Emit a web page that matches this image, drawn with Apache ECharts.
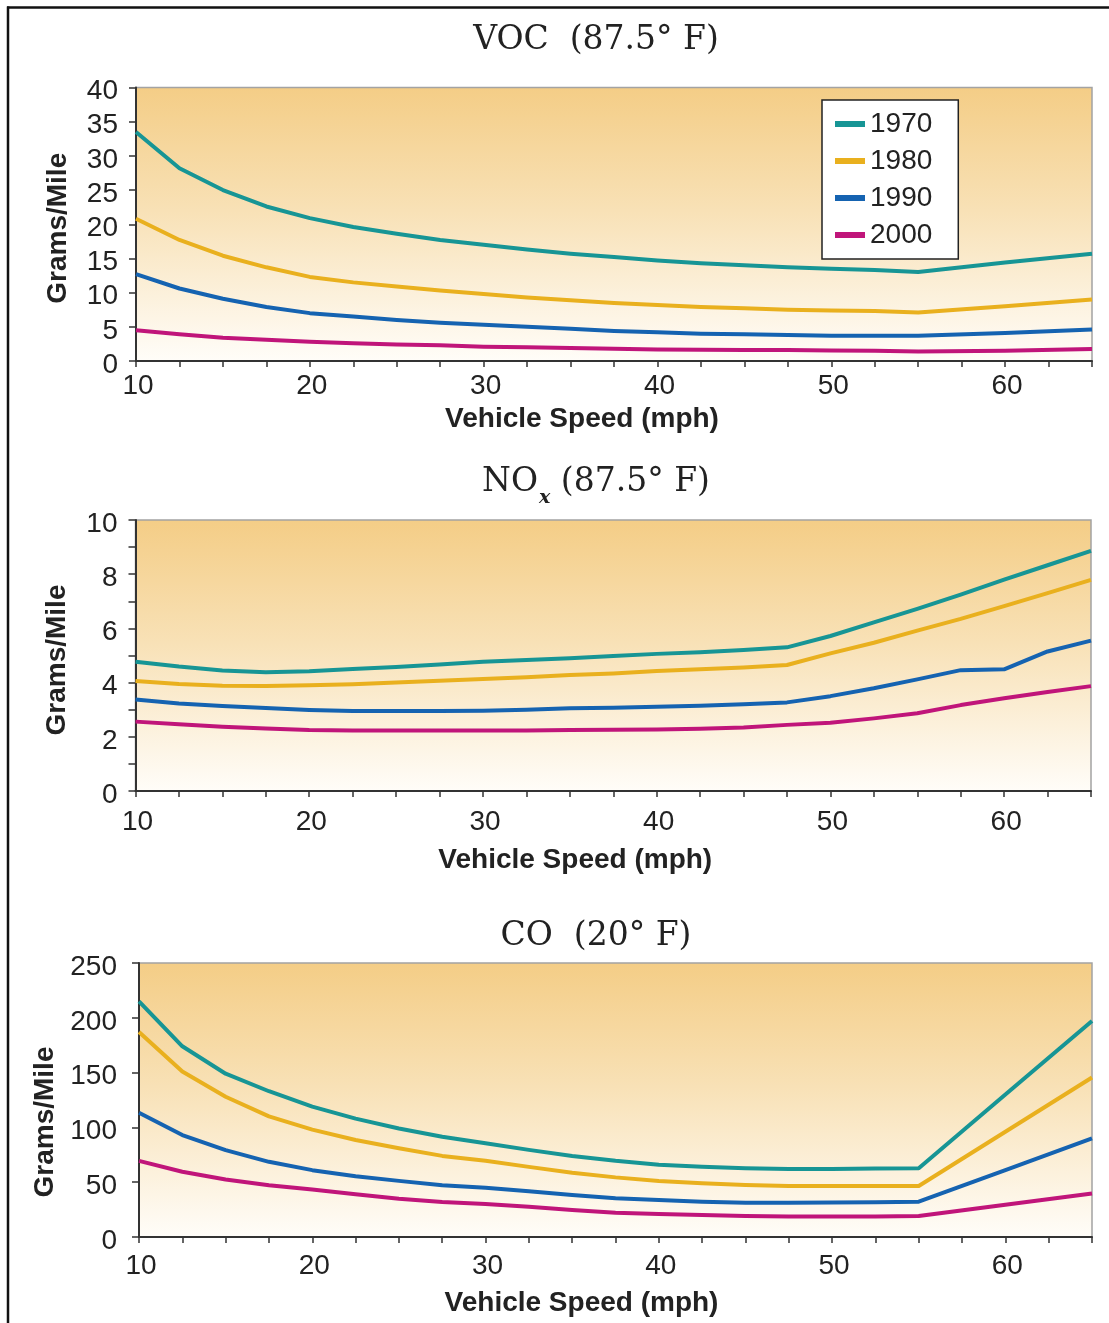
<!DOCTYPE html>
<html><head><meta charset="utf-8">
<script src="https://cdn.jsdelivr.net/npm/echarts@6/dist/echarts.min.js"></script>
<style>html,body{margin:0;padding:0;background:#fff}#c{width:1109px;height:1323px}</style>
</head><body><div id="c"></div><script>
// ---------- data ----------
const years = ['1970', '1980', '1990', '2000'];
const colors = ['#179595', '#E9B01E', '#1563B1', '#C0157A'];

// VOC (87.5° F)
const vocSpeed = [10,12.5,15,17.5,20,22.5,25,27.5,30,32.5,35,37.5,40,42.5,45,47.5,50,52.5,55,60,65];
const voc1970 = [33.5,28.2,25.0,22.6,20.9,19.6,18.6,17.7,17.0,16.3,15.7,15.2,14.7,14.3,14.0,13.7,13.5,13.3,13.0,14.4,15.7];
const voc1980 = [20.8,17.7,15.4,13.7,12.3,11.5,10.9,10.3,9.8,9.3,8.9,8.5,8.2,7.9,7.7,7.5,7.4,7.3,7.1,8.0,9.0];
const voc1990 = [12.7,10.6,9.1,7.9,7.0,6.5,6.0,5.6,5.3,5.0,4.7,4.4,4.2,4.0,3.9,3.8,3.7,3.7,3.7,4.1,4.6];
const voc2000 = [4.5,3.9,3.4,3.1,2.8,2.6,2.4,2.3,2.1,2.0,1.9,1.8,1.7,1.65,1.6,1.6,1.55,1.5,1.4,1.5,1.75];

// NOx (87.5° F)
const noxSpeed = [10,12.5,15,17.5,20,22.5,25,27.5,30,32.5,35,37.5,40,42.5,45,47.5,50,52.5,55,57.5,60,62.5,65];
const nox1970 = [4.77,4.59,4.45,4.38,4.42,4.50,4.58,4.67,4.77,4.83,4.90,4.98,5.06,5.12,5.20,5.30,5.72,6.22,6.72,7.25,7.80,8.33,8.86];
const nox1980 = [4.06,3.95,3.88,3.87,3.90,3.94,4.00,4.07,4.13,4.20,4.28,4.34,4.43,4.49,4.56,4.65,5.08,5.47,5.92,6.35,6.82,7.30,7.79];
const nox1990 = [3.38,3.23,3.14,3.06,2.99,2.95,2.95,2.95,2.96,3.00,3.05,3.07,3.11,3.15,3.20,3.27,3.50,3.79,4.12,4.46,4.49,5.15,5.55];
const nox2000 = [2.56,2.46,2.37,2.31,2.25,2.23,2.23,2.23,2.23,2.23,2.25,2.26,2.27,2.30,2.34,2.44,2.52,2.68,2.87,3.17,3.42,3.65,3.87];

// CO (20° F)
const coSpeed = [10,12.5,15,17.5,20,22.5,25,27.5,30,32.5,35,37.5,40,42.5,45,47.5,50,52.5,55,60,65];
const co1970 = [215,174,149,133,119,108,99,91.5,85.5,79.5,74,69.5,66,64,62.7,62,62,62.5,62.7,130,197];
const co1980 = [187,151,128,110,98,88.5,81,74,69.5,64,58.7,54.4,51,49,47.4,46.5,46.5,46.5,46.5,96,145.5];
const co1990 = [113.4,93,79.3,68.6,61,55.5,51.2,47.3,45,41.8,38.3,35.3,33.8,32.2,31.3,31.3,31.5,31.8,32.2,61,90];
const co2000 = [69.5,59.5,52.4,47.3,43.3,39,35,32,30,27.5,24.6,22.2,21,20.1,19.2,18.6,18.6,18.8,19.2,29.5,39.6];

// y-axis ticks
const vocY = {min: 0, max: 40, interval: 5};
const noxY = {min: 0, max: 10, interval: 1, labelStep: 2};
const coY  = {min: 0, max: 250, interval: 50};
const xTicks = {min: 10, max: 65, interval: 2.5, labelStep: 10};

// ---------- styling ----------
const SANS = '"Liberation Sans", Arial, Helvetica, sans-serif';
const SERIF = '"DejaVu Serif", "Liberation Serif", serif';
const TXT = '#222';
const AX = '#333';

const grids = [
  {left: 136, right: 17, top: 87.5, height: 273.5},
  {left: 135.5, right: 18, top: 520, height: 271},
  {left: 139, right: 17, top: 963, height: 274}
];

function bg() {
  return new echarts.graphic.LinearGradient(0, 0, 0, 1, [
    {offset: 0, color: '#F4CD86'},
    {offset: 0.45, color: '#F8E1B6'},
    {offset: 1, color: '#FFFDF9'}
  ]);
}

const gridOpts = grids.map(g => Object.assign({}, g, {
  show: true, backgroundColor: bg(), borderColor: '#a3a3a3', borderWidth: 1.5, containLabel: false
}));

const xLabelMargin = [11, 17, 15];
const xNameGap = [44, 55, 52];
const xNameShift = [64, 76, 68];

const xAxes = [0, 1, 2].map(i => ({
  type: 'value', gridIndex: i,
  min: xTicks.min, max: xTicks.max, interval: xTicks.interval,
  name: 'Vehicle Speed (mph)', nameLocation: 'middle', nameGap: xNameGap[i],
  nameTextStyle: {fontFamily: SANS, fontSize: 28, fontWeight: 'bold', color: TXT, padding: [0, xNameShift[i], 0, 0]},
  axisLine: {show: true, onZero: false, lineStyle: {color: AX, width: 2}},
  axisTick: {show: true, inside: false, length: 6, lineStyle: {color: AX, width: 1.5}},
  axisLabel: {
    margin: xLabelMargin[i], fontFamily: SANS, fontSize: 28, color: TXT, padding: [0, 0, 0, 4],
    formatter: v => (Math.abs(v % xTicks.labelStep) < 1e-9 ? String(v) : '')
  },
  splitLine: {show: false}
}));

const yDefs = [vocY, noxY, coY];
const yLabelMargin = [18, 18, 22];
const yNameGap = [64, 64, 78];
const yNameShift = [8, 9, 44];

const yAxes = yDefs.map((d, i) => ({
  type: 'value', gridIndex: i, min: d.min, max: d.max, interval: d.interval,
  name: 'Grams/Mile', nameLocation: 'middle', nameGap: yNameGap[i],
  nameTextStyle: {fontFamily: SANS, fontSize: 28, fontWeight: 'bold', color: TXT, padding: [0, yNameShift[i], 0, 0]},
  axisLine: {show: true, onZero: false, lineStyle: {color: AX, width: 2}},
  axisTick: {show: true, inside: false, length: 7, lineStyle: {color: AX, width: 1.5}},
  axisLabel: {
    margin: yLabelMargin[i], fontFamily: SANS, fontSize: 28, color: TXT,
    verticalAlign: 'top', lineHeight: 8,
    formatter: v => (d.labelStep ? (Math.abs(v % d.labelStep) < 1e-9 ? String(v) : '') : String(v))
  },
  splitLine: {show: false}
}));

const panels = [
  {speed: vocSpeed, vals: [voc1970, voc1980, voc1990, voc2000]},
  {speed: noxSpeed, vals: [nox1970, nox1980, nox1990, nox2000]},
  {speed: coSpeed, vals: [co1970, co1980, co1990, co2000]}
];

const series = [];
panels.forEach((p, pi) => {
  p.vals.forEach((arr, k) => {
    series.push({
      name: years[k], type: 'line', xAxisIndex: pi, yAxisIndex: pi,
      data: p.speed.map((s, j) => [s, arr[j]]),
      symbol: 'none', smooth: false, clip: true,
      lineStyle: {color: colors[k], width: 4, join: 'round'},
      itemStyle: {color: colors[k]},
      z: 3
    });
  });
});

const titles = [
  {text: 'VOC  (87.5° F)', top: 24},
  {text: '{a|NO}{s|x}{a| (87.5° F)}', top: 466, rich: true},
  {text: 'CO  (20° F)', top: 920}
].map(t => {
  const o = {
    text: t.text, left: 596, top: t.top, textAlign: 'center', padding: 0,
    textStyle: {fontFamily: SERIF, fontSize: 33, fontWeight: 'normal', color: TXT}
  };
  if (t.rich) {
    o.textStyle.rich = {
      a: {fontFamily: SERIF, fontSize: 33, color: TXT, lineHeight: 44, verticalAlign: 'top'},
      s: {fontFamily: SERIF, fontSize: 19, fontWeight: 'bold', fontStyle: 'italic', color: TXT,
          lineHeight: 44, verticalAlign: 'top', padding: [23, 0, 0, 1]}
    };
  }
  return o;
});

const option = {
  animation: false,
  backgroundColor: '#ffffff',
  title: titles,
  legend: {
    show: true, orient: 'vertical', left: 822, top: 100,
    data: years.map((y, k) => ({name: y, icon: 'rect', itemStyle: {color: colors[k]}})),
    itemWidth: 30, itemHeight: 6, itemGap: 7, selectedMode: false,
    backgroundColor: '#ffffff', borderColor: '#222', borderWidth: 1.5,
    padding: [9, 26, 9, 13],
    textStyle: {fontFamily: SANS, fontSize: 28, color: TXT, lineHeight: 30}
  },
  grid: gridOpts,
  xAxis: xAxes,
  yAxis: yAxes,
  series: series,
  graphic: [
    {type: 'line', shape: {x1: 7, y1: 7.5, x2: 1109, y2: 7.5}, style: {stroke: '#111', lineWidth: 2.5}, z: 100},
    {type: 'line', shape: {x1: 8, y1: 6.5, x2: 8, y2: 1323}, style: {stroke: '#111', lineWidth: 2.5}, z: 100}
  ]
};

const chart = echarts.init(document.getElementById('c'), null, {renderer: 'canvas'});
chart.setOption(option);
</script></body></html>
